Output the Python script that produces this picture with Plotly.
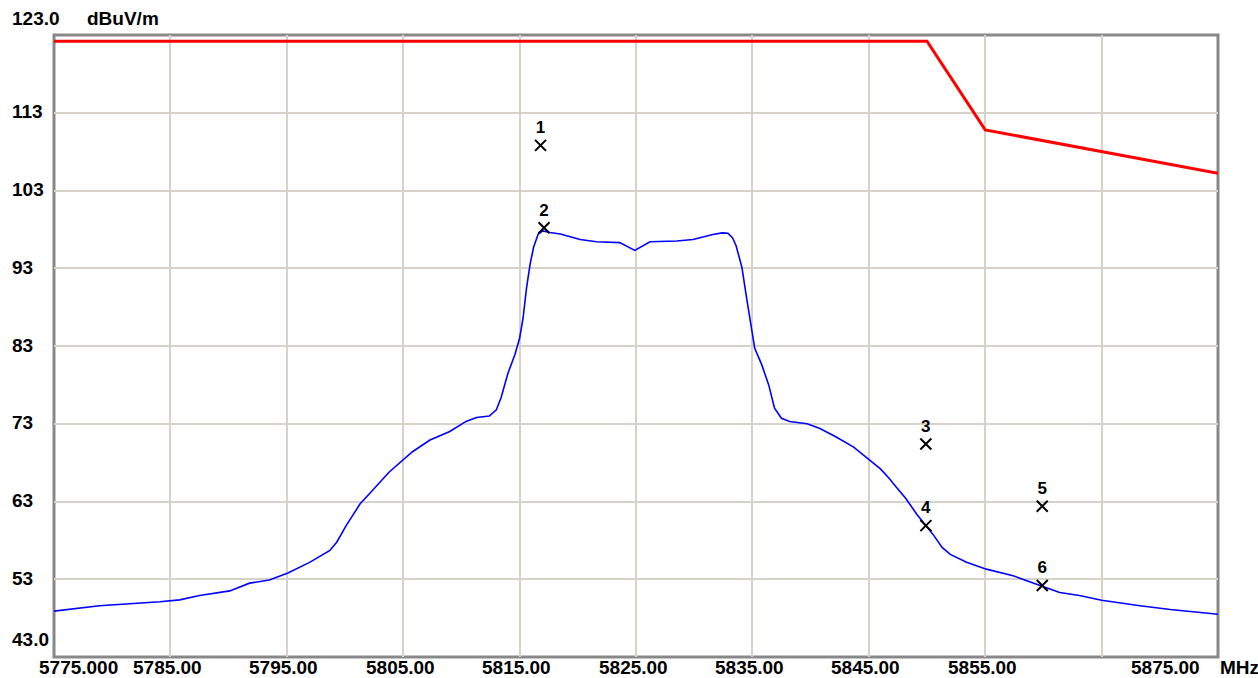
import plotly.graph_objects as go

# Measured spectrum trace (MHz, dBuV/m)
trace_freq = [5775.0, 5778.9, 5784.1, 5785.8, 5787.5, 5790.1, 5791.8, 5793.5, 5795.1,
              5797.0, 5798.7, 5799.3, 5800.1, 5801.3, 5802.1, 5803.8, 5805.8, 5807.3,
              5809.0, 5810.4, 5811.3, 5812.4, 5813.0, 5813.4, 5814.0, 5814.6, 5815.0,
              5815.3, 5815.6, 5815.9, 5816.2, 5816.6, 5817.0, 5817.6, 5818.5, 5820.2,
              5821.6, 5823.6, 5824.9, 5826.2, 5828.5, 5829.9, 5831.6, 5832.4, 5832.9,
              5833.3, 5833.6, 5834.1, 5834.5, 5834.9, 5835.2, 5835.8, 5836.4, 5836.9,
              5837.5, 5838.2, 5839.7, 5840.8, 5842.2, 5843.7, 5845.1, 5846.0, 5846.8,
              5847.1, 5848.2, 5849.1, 5849.9, 5850.5, 5851.3, 5852.0, 5853.4, 5855.1,
              5857.4, 5859.7, 5861.4, 5863.1, 5865.0, 5868.3, 5870.9, 5875.0]
trace_level = [48.9, 49.6, 50.1, 50.35, 50.9, 51.5, 52.5, 52.9, 53.8,
               55.2, 56.7, 57.8, 59.9, 62.7, 64.0, 66.8, 69.4, 70.9,
               72.0, 73.3, 73.8, 74.0, 74.8, 76.3, 79.5, 81.9, 84.0,
               86.6, 90.5, 93.5, 95.7, 97.4, 97.8, 97.6, 97.4, 96.7,
               96.4, 96.3, 95.3, 96.4, 96.5, 96.7, 97.35, 97.55, 97.5,
               96.9, 95.9, 93.1, 89.2, 85.3, 82.7, 80.6, 78.0, 75.0,
               73.7, 73.3, 73.0, 72.4, 71.3, 70.0, 68.3, 67.2, 65.9,
               65.3, 63.35, 61.4, 59.9, 58.8, 57.1, 56.2, 55.2, 54.3,
               53.45, 52.2, 51.3, 50.9, 50.3, 49.6, 49.1, 48.5]

# Emission limit mask
limit_freq = [5775.0, 5850.0, 5855.0, 5875.0]
limit_level = [122.2, 122.2, 110.8, 105.2]

# Marker readings
marker_freq = [5816.8, 5817.1, 5849.9, 5849.9, 5859.9, 5859.9]
marker_level = [108.8, 98.2, 70.4, 59.9, 62.4, 52.2]
marker_id = ["1", "2", "3", "4", "5", "6"]

# Axis ticks
x_grid = [5785, 5795, 5805, 5815, 5825, 5835, 5845, 5855, 5865]
x_labels = [5775, 5785, 5795, 5805, 5815, 5825, 5835, 5845, 5855, 5875]
x_label_text = ["5775.000", "5785.00", "5795.00", "5805.00", "5815.00", "5825.00",
                "5835.00", "5845.00", "5855.00", "5875.00"]
y_grid = [53, 63, 73, 83, 93, 103, 113]
y_labels = [43, 53, 63, 73, 83, 93, 103, 113, 123]
y_label_text = ["43.0", "53", "63", "73", "83", "93", "103", "113", "123.0"]

FONT = "Liberation Sans"
LABEL_SIZE = 19


def label_font():
    return dict(family=FONT, size=LABEL_SIZE, color="#000000", weight="bold")


fig = go.Figure()

fig.add_trace(go.Scatter(
    x=limit_freq, y=limit_level, mode="lines",
    line=dict(color="#ff0000", width=3), hoverinfo="skip", showlegend=False,
))
fig.add_trace(go.Scatter(
    x=trace_freq, y=trace_level, mode="lines",
    line=dict(color="#0000ff", width=1.6), showlegend=False,
))
fig.add_trace(go.Scatter(
    x=marker_freq, y=marker_level, mode="markers+text",
    text=marker_id, textposition="top center",
    textfont=dict(family=FONT, size=17, color="#000000", weight="bold"),
    marker=dict(symbol="x-thin", size=11, color="#000000",
                line=dict(color="#000000", width=2)),
    cliponaxis=False, showlegend=False,
))

annotations = []
# Level labels, left-aligned in the left margin
for val, txt in zip(y_labels, y_label_text):
    shift = 1
    if val == 123:
        shift = 17
    elif val == 43:
        shift = 18
    annotations.append(dict(
        x=0, xref="paper", xshift=-44, xanchor="left",
        y=val, yref="y", yshift=shift, yanchor="middle",
        text=txt, showarrow=False, font=label_font(),
    ))
annotations.append(dict(
    x=0, xref="paper", xshift=31, xanchor="left",
    y=123, yref="y", yshift=17, yanchor="middle",
    text="dBuV/m", showarrow=False, font=label_font(),
))

# Frequency labels below the plot
for val, txt in zip(x_labels, x_label_text):
    if val == x_labels[0]:
        anchor, xs = "left", -17
    elif val == x_labels[-1]:
        anchor, xs = "right", -16
    else:
        anchor, xs = "center", -3
    annotations.append(dict(
        x=val, xref="x", xshift=xs, xanchor=anchor,
        y=0, yref="paper", yshift=-10, yanchor="middle",
        text=txt, showarrow=False, font=label_font(),
    ))
annotations.append(dict(
    x=x_labels[-1], xref="x", xshift=0, xanchor="left",
    y=0, yref="paper", yshift=-10, yanchor="middle",
    text="MHz", showarrow=False, font=label_font(),
))

fig.update_layout(
    width=1258, height=678,
    margin=dict(l=54, r=40, t=35, b=21, autoexpand=False),
    paper_bgcolor="#ffffff", plot_bgcolor="#ffffff",
    annotations=annotations,
    shapes=[dict(type="rect", xref="paper", yref="paper", x0=0, x1=1, y0=0, y1=1,
                 line=dict(color="#888888", width=3), layer="below")],
    hovermode=False,
)
fig.update_xaxes(
    range=[5775, 5875], tickvals=x_grid, showticklabels=False,
    showgrid=True, gridcolor="#d6d2ca", gridwidth=2, zeroline=False,
    showline=False, ticks="", automargin=False,
)
fig.update_yaxes(
    range=[43, 123], tickvals=y_grid, showticklabels=False,
    showgrid=True, gridcolor="#d6d2ca", gridwidth=2, zeroline=False,
    showline=False, ticks="", automargin=False,
)

fig.write_html("out.html")
